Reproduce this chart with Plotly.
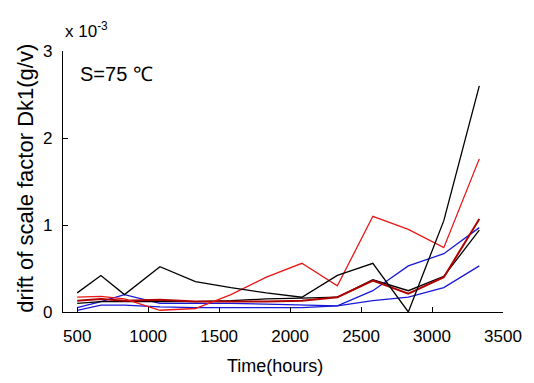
import plotly.graph_objects as go

# Time points (hours)
time_hours = [500, 667, 833, 1083, 1333, 1583, 1833, 2083, 2333, 2583, 2833, 3083, 3333]

# Drift of scale factor Dk1 (g/v), in units of 1e-3
SCALE = 1e-3
black_1 = [0.22, 0.42, 0.20, 0.52, 0.35, 0.28, 0.22, 0.17, 0.42, 0.56, 0.00, 1.05, 2.60]
red_1   = [0.17, 0.18, 0.15, 0.02, 0.04, 0.20, 0.40, 0.56, 0.30, 1.10, 0.95, 0.74, 1.76]
red_2   = [0.13, 0.15, 0.13, 0.14, 0.12, 0.12, 0.12, 0.13, 0.17, 0.36, 0.21, 0.40, 1.07]
black_2 = [0.10, 0.12, 0.12, 0.12, 0.12, 0.13, 0.15, 0.16, 0.17, 0.37, 0.245, 0.41, 0.94]
blue_1  = [0.05, 0.12, 0.20, 0.10, 0.10, 0.10, 0.09, 0.08, 0.07, 0.245, 0.53, 0.67, 0.97]
blue_2  = [0.02, 0.08, 0.08, 0.06, 0.05, 0.05, 0.05, 0.05, 0.07, 0.13, 0.17, 0.28, 0.53]

x_ticks = [500, 1000, 1500, 2000, 2500, 3000, 3500]
y_ticks = [0, 1, 2, 3]

series = [
    (blue_2, "#1818d8", 1.3),
    (blue_1, "#1818d8", 1.3),
    (black_2, "#000000", 1.3),
    (red_2, "#b00000", 2.0),
    (red_1, "#e81818", 1.3),
    (black_1, "#000000", 1.3),
]

fig = go.Figure()
for vals, color, w in series:
    fig.add_trace(go.Scatter(
        x=time_hours, y=[v * SCALE for v in vals], mode="lines",
        line=dict(color=color, width=w), showlegend=False, hoverinfo="skip"))

FONT = "Liberation Sans, Arial, sans-serif"
tick_font = dict(family=FONT, size=17, color="#000")

fig.update_layout(
    width=534, height=383,
    margin=dict(l=63, r=23, t=51, b=71),
    paper_bgcolor="white", plot_bgcolor="white",
    xaxis=dict(range=[400, 3500], tickvals=x_ticks, ticktext=[str(t) for t in x_ticks],
               showline=True, linecolor="#000", linewidth=1.3, ticks="inside",
               ticklen=5, tickcolor="#000", showgrid=False, zeroline=False,
               tickfont=tick_font, ticklabelstandoff=8),
    yaxis=dict(range=[0, 3 * SCALE], tickvals=[v * SCALE for v in y_ticks],
               ticktext=[str(v) for v in y_ticks],
               showline=True, linecolor="#000", linewidth=1.3, ticks="inside",
               ticklen=5, tickcolor="#000", showgrid=False, zeroline=False,
               tickfont=tick_font, ticklabelstandoff=6),
    annotations=[
        dict(text="x 10<sup>-3</sup>", xref="paper", yref="paper", x=0.0, y=1.08,
             xanchor="left", yanchor="middle", showarrow=False,
             font=dict(family=FONT, size=17, color="#000")),
        dict(text="S=75 ℃", xref="paper", yref="paper", x=0.033, y=0.912,
             xanchor="left", yanchor="middle", showarrow=False,
             font=dict(family=FONT, size=20, color="#000")),
        dict(text="drift of scale factor Dk1(g/v)", xref="paper", yref="paper",
             x=-0.085, y=0.513, xanchor="center", yanchor="middle", textangle=-90,
             showarrow=False,
             font=dict(family=FONT, size=22, color="#000")),
        dict(text="Time(hours)", xref="paper", yref="paper", x=0.482, y=-0.205,
             xanchor="center", yanchor="middle", showarrow=False,
             font=dict(family=FONT, size=18, color="#000")),
    ],
)

fig.write_html("out.html")
